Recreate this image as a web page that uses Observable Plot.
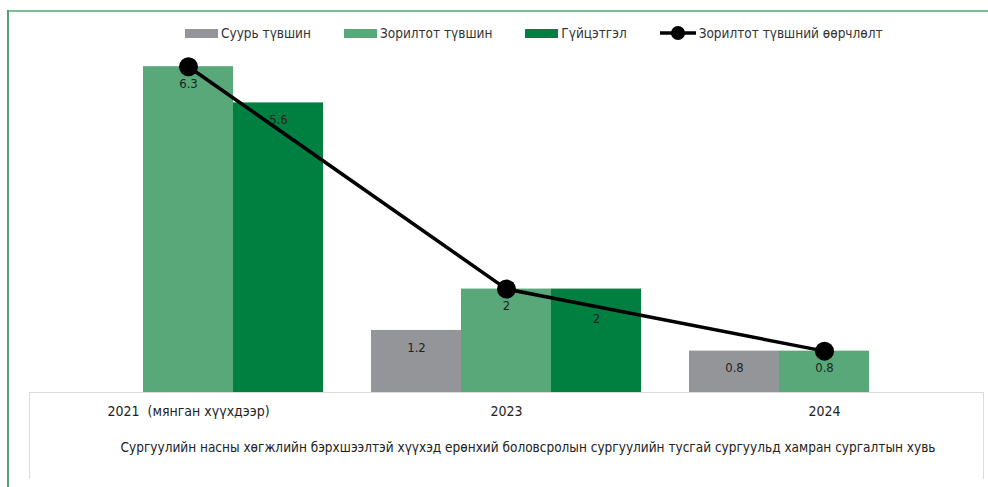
<!DOCTYPE html>
<html><head><meta charset="utf-8">
<script src="https://cdn.jsdelivr.net/npm/d3@7"></script>
<script src="https://cdn.jsdelivr.net/npm/@observablehq/plot@0.6"></script>
<style>
body{margin:0;background:#fff;font-family:"Liberation Sans Narrow","DejaVu Sans Condensed","Roboto Condensed",sans-serif;}
#wrap{position:relative;width:988px;height:487px;overflow:hidden;background:#fff;}
#topline{position:absolute;left:7px;top:10px;width:981px;height:2px;background:#7cbf95;}
#leftline{position:absolute;left:7px;top:10px;width:2px;height:477px;background:#4fa074;}
#box{position:absolute;left:29px;top:392px;width:953px;height:86px;border:1px solid #dcdcdc;border-bottom:none;}
.layer{position:absolute;top:0;left:0;}
#legend{position:absolute;top:25px;left:185px;display:flex;align-items:center;gap:33px;font-size:13.5px;color:#333;white-space:nowrap;}
#legend .item{display:flex;align-items:center;gap:3px;}
#legend .sw{width:33px;height:9px;display:inline-block;}
#caption{position:absolute;top:439px;left:72px;width:912px;text-align:center;font-size:13.5px;color:#222;white-space:nowrap;}
</style>
</head><body>
<div id="wrap">
  <div id="topline"></div>
  <div id="leftline"></div>
  <div id="box"></div>
  <div id="bars" class="layer"></div>
  <div id="line" class="layer"></div>
  <div id="legend"></div>
  <div id="caption"></div>
</div>
<script>
const categories = ["2021", "2023", "2024"];
const categoryLabels = ["2021\u00a0\u00a0(мянган хүүхдээр)", "2023", "2024"];
const seriesNames = ["Суурь түвшин", "Зорилтот түвшин", "Гүйцэтгэл"];
const baselineValues = [null, 1.2, 0.8];
const targetValues = [6.3, 2, 0.8];
const actualValues = [5.6, 2, null];
const lineName = "Зорилтот түвшний өөрчлөлт";
const captionText = "Сургуулийн насны хөгжлийн бэрхшээлтэй хүүхэд ерөнхий боловсролын сургуулийн тусгай сургуульд хамран сургалтын хувь";
const seriesColors = ["#949599", "#58a87a", "#008040"];

const rows = categories.flatMap((c, i) =>
  [[seriesNames[0], baselineValues[i]], [seriesNames[1], targetValues[i]], [seriesNames[2], actualValues[i]]]
    .filter(d => d[1] != null)
    .map(([s, v]) => ({year: c, series: s, value: v}))
);
const lineRows = categories.map((c, i) => ({year: c, value: targetValues[i]}));
// label of the 2023 "Гүйцэтгэл" bar sits lower, away from the line
const isLowLabel = d => d.year === "2023" && d.series === seriesNames[2];

const fontFamily = '"Liberation Sans Narrow","DejaVu Sans Condensed","Roboto Condensed",sans-serif';
const common = {
  width: 988, height: 430,
  marginLeft: 29, marginRight: 5, marginTop: 30, marginBottom: 38,
  y: {domain: [0, 7], axis: null}
};

const bars = Plot.plot({
  ...common,
  style: {background: "transparent", fontFamily, fontSize: "14px", color: "#222"},
  fx: {domain: categories, padding: 0, axis: "bottom", label: null, tickSize: 0, tickPadding: 14,
       tickFormat: d => categoryLabels[categories.indexOf(d)]},
  x: {domain: seriesNames, paddingInner: 0, paddingOuter: 0.25, axis: null},
  color: {domain: seriesNames, range: seriesColors},
  marks: [
    Plot.barY(rows, {fx: "year", x: "series", y: "value", fill: "series"}),
    Plot.text(rows.filter(d => !isLowLabel(d)), {fx: "year", x: "series", y: "value", text: d => String(d.value), dy: 17, fill: "#222", fontSize: 13}),
    Plot.text(rows.filter(isLowLabel), {fx: "year", x: "series", y: "value", text: d => String(d.value), dy: 30, fill: "#222", fontSize: 13})
  ]
});
document.getElementById("bars").append(bars);

const line = Plot.plot({
  ...common,
  style: {background: "transparent"},
  x: {type: "point", domain: categories, padding: 0.5, axis: null},
  marks: [
    Plot.line(lineRows, {x: "year", y: "value", stroke: "#000", strokeWidth: 3.5}),
    Plot.dot(lineRows, {x: "year", y: "value", r: 9.5, fill: "#000"})
  ]
});
document.getElementById("line").append(line);

const legend = document.getElementById("legend");
seriesNames.forEach((s, i) => {
  const it = document.createElement("div"); it.className = "item";
  it.innerHTML = `<span class="sw" style="background:${seriesColors[i]}"></span><span>${s}</span>`;
  legend.append(it);
});
const li = document.createElement("div"); li.className = "item";
li.innerHTML = `<svg width="36" height="16"><line x1="0" y1="8" x2="36" y2="8" stroke="#000" stroke-width="3.5"/><circle cx="18" cy="8" r="7" fill="#000"/></svg><span>${lineName}</span>`;
legend.append(li);
document.getElementById("caption").textContent = captionText;
</script>
</body></html>
